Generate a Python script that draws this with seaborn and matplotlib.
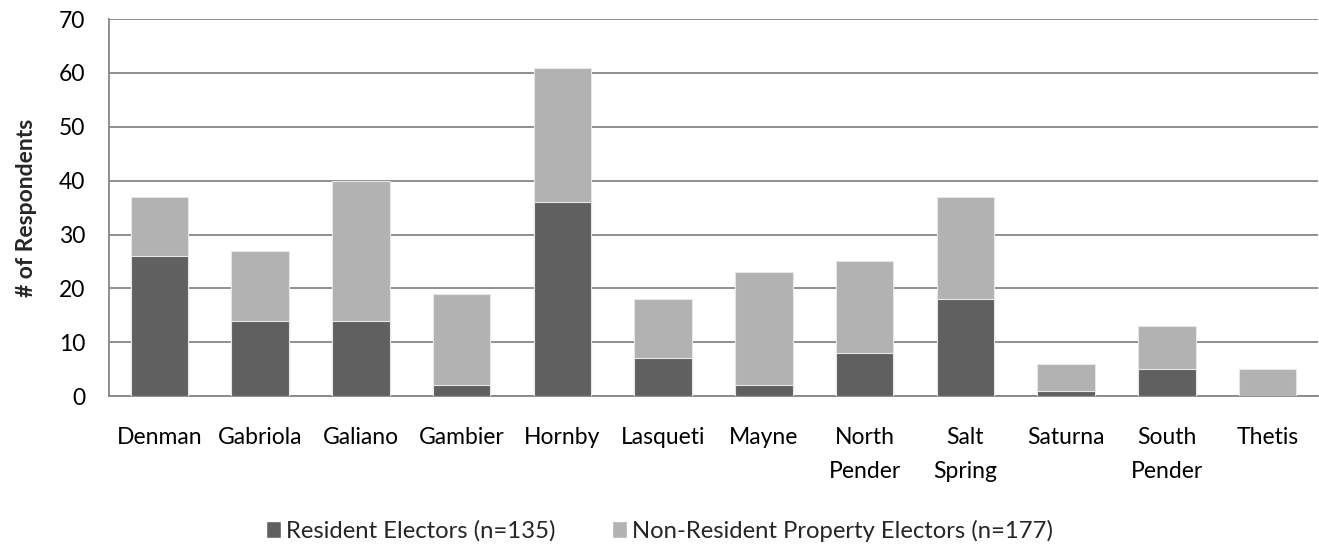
import pandas as pd
import matplotlib
matplotlib.use("Agg")
import matplotlib.pyplot as plt
import seaborn as sns
from matplotlib.patches import Patch

# --------------------------------------------------
# Data
# --------------------------------------------------
islands = ["Denman", "Gabriola", "Galiano", "Gambier", "Hornby", "Lasqueti",
           "Mayne", "North\nPender", "Salt\nSpring", "Saturna", "South\nPender", "Thetis"]
resident = [26, 14, 14, 2, 36, 7, 2, 8, 18, 1, 5, 0]
non_resident = [11, 13, 26, 17, 25, 11, 21, 17, 19, 5, 8, 5]

legend_labels = ["Resident Electors (n=135)", "Non-Resident Property Electors (n=177)"]
y_ticks = [0, 10, 20, 30, 40, 50, 60, 70]

DARK = "#606060"
LIGHT = "#b2b2b2"
GRID = "#878787"
FS = 16.5

df = pd.DataFrame({"island": islands, "resident": resident, "non_resident": non_resident})
df["total"] = df["resident"] + df["non_resident"]

# --------------------------------------------------
# Plot
# --------------------------------------------------
sns.set_style("white")
plt.rcParams["font.family"] = ["Lato", "DejaVu Sans"]

fig = plt.figure(figsize=(13.19, 5.47), dpi=100)
ax = fig.add_axes([0.0826, 0.276, 0.9166, 0.689])

# stacked bars: total in light grey, resident drawn over it in dark grey
sns.barplot(data=df, x="island", y="total", color=LIGHT, width=0.57,
            saturation=1, edgecolor="#e6e6e6", linewidth=0.8, ax=ax, zorder=3)
sns.barplot(data=df, x="island", y="resident", color=DARK, width=0.57,
            saturation=1, edgecolor="#e6e6e6", linewidth=0.8, ax=ax, zorder=4)

ax.set_ylim(0, 70)
ax.set_xlim(-0.5, len(islands) - 0.5)
ax.set_yticks(y_ticks)
ax.yaxis.grid(True, color=GRID, linewidth=1.3, zorder=0)
ax.set_axisbelow(True)

for side in ["top", "right"]:
    ax.spines[side].set_visible(False)
for side in ["left", "bottom"]:
    ax.spines[side].set_color(GRID)
    ax.spines[side].set_linewidth(1.3)

ax.tick_params(axis="both", length=0, labelsize=FS, colors="black")
ax.tick_params(axis="y", pad=17)
ax.tick_params(axis="x", pad=22)
for lbl in ax.get_xticklabels():
    lbl.set_linespacing(1.8)

ax.set_xlabel("")
ax.set_ylabel("# of Respondents", fontsize=FS, fontweight="bold", labelpad=16)

handles = [Patch(facecolor=DARK), Patch(facecolor=LIGHT)]
fig.legend(handles, legend_labels, loc="center", bbox_to_anchor=(0.5, 0.03),
           ncol=2, frameon=False, fontsize=17.2, handlelength=0.6, handleheight=0.75,
           handletextpad=0.2, columnspacing=2.4)

plt.savefig("out.png", dpi=100)
